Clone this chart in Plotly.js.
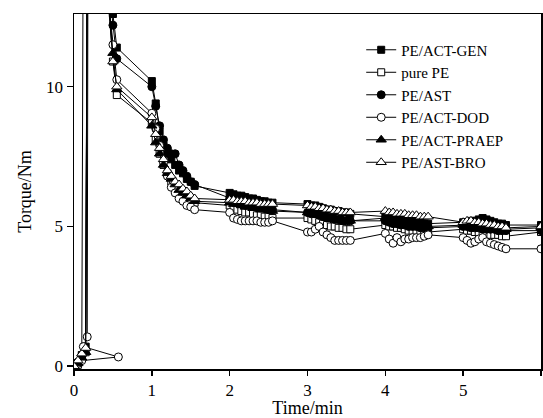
<!DOCTYPE html>
<html>
<head>
<meta charset="utf-8">
<script src="https://cdn.plot.ly/plotly-3.0.1.min.js"></script>
<style>html,body{margin:0;padding:0;background:#fff;}#chart{width:543px;height:418px;}</style>
</head>
<body>
<div id="chart"></div>
<script>
// time recorded as minute.seconds (5-second steps)
const timeGrid = [
  0.00,0.05,0.10,0.15,0.20,0.25,0.30,0.35,0.40,0.45,0.50,0.55,
  1.00,1.05,1.10,1.15,1.20,1.25,1.30,1.35,1.40,1.45,1.50,1.55,
  2.00,2.05,2.10,2.15,2.20,2.25,2.30,2.35,2.40,2.45,2.50,2.55,
  3.00,3.05,3.10,3.15,3.20,3.25,3.30,3.35,3.40,3.45,3.50,3.55,
  4.00,4.05,4.10,4.15,4.20,4.25,4.30,4.35,4.40,4.45,4.50,4.55,
  5.00,5.05,5.10,5.15,5.20,5.25,5.30,5.35,5.40,5.45,5.50,5.55,
  6.00];

const seriesNames = ["PE/ACT-GEN","pure PE","PE/AST","PE/ACT-DOD","PE/ACT-PRAEP","PE/AST-BRO"];

const genY = [
  0,0.1,0.4,0.7,38,42,40,36,28,13.2,12.6,11.4,
  10.2,9.4,8.4,7.9,7.6,7.4,7.2,7.0,6.9,6.7,6.6,6.45,
  6.2,6.15,6.1,6.1,6.05,6.0,6.0,5.95,5.9,5.9,5.85,5.85,
  5.8,5.75,5.75,5.7,5.65,5.6,5.6,5.55,5.55,5.5,5.5,5.45,
  5.35,5.3,5.3,5.25,5.25,5.2,5.2,5.2,5.15,5.15,5.1,5.1,
  5.15,5.15,5.2,5.2,5.25,5.3,5.25,5.2,5.15,5.1,5.1,5.05,
  5.05];

const purePEY = [
  0,0.05,0.3,0.5,36,40,38,33,25,12.8,10.9,9.7,
  8.7,8.1,7.6,7.2,6.9,6.6,6.4,6.2,6.1,6.0,5.9,5.85,
  5.75,5.7,5.6,5.55,5.5,5.5,5.45,5.4,5.4,5.35,5.35,5.3,
  5.3,5.25,5.2,5.15,5.1,5.05,5.0,5.0,4.95,4.95,4.9,4.9,
  5.05,5.0,5.0,4.95,4.95,4.9,4.85,4.85,4.85,4.8,4.8,4.8,
  4.9,4.85,4.85,4.8,4.8,4.75,4.75,4.7,4.7,4.7,4.65,4.65,
  4.8];

const astY = [
  0,0.15,0.35,42,44,44,41,37,30,13.5,12.2,11.0,
  10.0,9.3,8.6,8.1,7.8,7.6,7.6,7.2,7.0,6.8,6.6,6.5,
  6.0,5.95,5.9,5.85,5.8,5.8,5.75,5.7,5.7,5.65,5.6,5.6,
  5.5,5.45,5.45,5.4,5.35,5.3,5.3,5.25,5.25,5.2,5.2,5.2,
  5.2,5.15,5.1,5.1,5.05,5.05,5.0,5.0,5.0,4.95,4.95,4.95,
  5.0,5.0,4.95,4.95,4.95,4.9,4.9,4.9,4.9,4.85,4.85,4.85,
  4.85];

// PE/ACT-DOD has its own start (one out-of-order reading near 0.57)
const dodStartX = [0.00,0.05,0.10,0.57,0.12,0.17,0.20,0.25,0.30,0.35,0.40,0.45,0.50,0.55];
const dodStartY = [0,0.1,0.2,0.33,0.7,1.05,46,44,40,35,27,12.9,11.5,10.25];
const dodRestY = [
  9.05,8.5,7.9,7.3,6.8,6.4,6.2,6.0,5.9,5.75,5.7,5.6,
  5.5,5.3,5.25,5.2,5.2,5.2,5.2,5.2,5.15,5.15,5.15,5.2,
  4.8,4.8,4.9,5.0,4.8,4.7,4.6,4.5,4.5,4.5,4.5,4.5,
  4.75,4.55,4.4,4.6,4.45,4.55,4.55,4.6,4.6,4.6,4.65,4.7,
  4.6,4.5,4.4,4.45,4.55,4.6,4.45,4.4,4.35,4.3,4.25,4.2,
  4.2];

const praepY = [
  0,0.1,0.3,0.5,37,41,39,34,27,13.0,11.2,9.9,
  8.6,8.0,7.6,7.2,6.9,6.7,6.5,6.3,6.2,6.1,6.0,5.9,
  5.85,5.8,5.8,5.75,5.7,5.7,5.65,5.65,5.6,5.6,5.6,5.55,
  5.5,5.45,5.45,5.4,5.35,5.35,5.3,5.3,5.25,5.25,5.2,5.2,
  5.3,5.25,5.2,5.2,5.15,5.15,5.1,5.1,5.05,5.05,5.0,5.0,
  5.05,5.05,5.0,5.0,5.0,5.0,4.95,4.95,4.95,4.95,4.9,4.9,
  4.95];

const broY = [
  0,0.2,0.45,0.65,39,43,40,35,28,12.7,10.9,10.0,
  8.9,8.3,7.8,7.4,7.0,6.8,6.6,6.5,6.35,6.25,6.1,6.0,
  5.95,5.95,5.9,5.9,5.9,5.85,5.85,5.85,5.8,5.8,5.8,5.8,
  5.75,5.7,5.7,5.65,5.65,5.6,5.6,5.55,5.55,5.5,5.5,5.5,
  5.55,5.5,5.5,5.45,5.45,5.45,5.4,5.4,5.4,5.35,5.35,5.35,
  5.15,5.2,5.2,5.15,5.15,5.1,5.1,5.05,5.05,5.0,5.0,4.95,
  5.0];

const xTicks = [0,1,2,3,4,5,6];
const yTicks = [0,5,10];

const font = 'Liberation Serif, Times New Roman, serif';
const restX = timeGrid.slice(12);

function tr(name, x, y, symbol, filled, size) {
  return {
    type: 'scatter', mode: 'lines+markers', name: name, x: x, y: y,
    line: {color: '#000', width: 1},
    marker: {symbol: symbol, size: size, color: filled ? '#000' : '#fff',
             line: {color: '#000', width: 1}},
    cliponaxis: true
  };
}

const data = [
  tr(seriesNames[0], timeGrid, genY, 'square', true, 7),
  tr(seriesNames[1], timeGrid, purePEY, 'square', false, 7),
  tr(seriesNames[2], timeGrid, astY, 'circle', true, 8),
  tr(seriesNames[3], dodStartX.concat(restX), dodStartY.concat(dodRestY), 'circle', false, 8),
  tr(seriesNames[4], timeGrid, praepY, 'triangle-up', true, 9),
  tr(seriesNames[5], timeGrid, broY, 'triangle-up', false, 9)
];

const layout = {
  width: 543, height: 418,
  margin: {l: 74, r: 2, t: 14, b: 49},
  paper_bgcolor: '#fff', plot_bgcolor: '#fff',
  font: {family: font, color: '#000', size: 16},
  showlegend: true,
  legend: {x: 0.615, y: 0.945, xanchor: 'left', yanchor: 'top',
           font: {family: font, size: 15, color: '#000'},
           bgcolor: 'rgba(0,0,0,0)', borderwidth: 0, tracegroupgap: 0},
  xaxis: {range: [0, 6], tickvals: xTicks, ticktext: xTicks.map(String),
          showgrid: false, zeroline: false, showline: true, mirror: true,
          linecolor: '#000', linewidth: 1.5, ticks: 'outside', ticklen: 5,
          tickcolor: '#000', tickwidth: 1.5,
          tickfont: {family: font, size: 17},
          title: {text: 'Time/min', font: {family: font, size: 18}, standoff: 4}},
  yaxis: {range: [-0.1, 12.6], tickvals: yTicks, ticktext: yTicks.map(String),
          showgrid: false, zeroline: false, showline: true, mirror: true,
          linecolor: '#000', linewidth: 1.5, ticks: 'outside', ticklen: 6,
          tickcolor: '#000', tickwidth: 1.5,
          tickfont: {family: font, size: 17},
          title: {text: 'Torque/Nm', font: {family: font, size: 18}, standoff: 10}}
};

Plotly.newPlot('chart', data, layout, {staticPlot: true, displayModeBar: false});
</script>
</body>
</html>
